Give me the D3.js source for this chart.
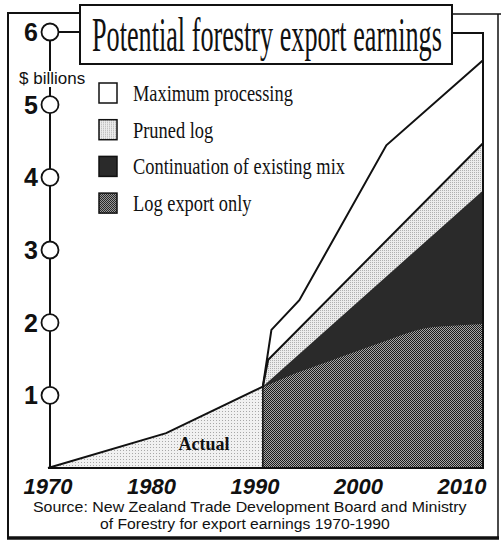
<!DOCTYPE html>
<html>
<head>
<meta charset="utf-8">
<script src="https://cdn.jsdelivr.net/npm/d3@7"></script>
<style>
  body { margin: 0; background: #fff; }
  svg { display: block; }
</style>
</head>
<body>
<div id="chart"></div>
<script>
// data ($ billions)
var actualYears = [1970, 1981, 1990];
var actualValues = [0, 0.48, 1.12];

var maxYears = [1990, 1990.8, 1993.4, 2001.5, 2010.5];
var maxValues = [1.12, 1.9, 2.31, 4.44, 5.61];

var prunedYears = [1990, 1990.5, 2010.5];
var prunedValues = [1.12, 1.49, 4.47];

var mixYears = [1990, 2010.5];
var mixValues = [1.12, 3.82];

var logYears = [1990, 1993, 1996, 1999, 2002, 2005, 2008, 2010.5];
var logValues = [1.11, 1.30, 1.46, 1.62, 1.78, 1.92, 1.96, 1.98];

var yTicks = [1, 2, 3, 4, 5, 6];
var xTickLabels = ["1970", "1980", "1990", "2000", "2010"];
var legendLabels = ["Maximum processing", "Pruned log", "Continuation of existing mix", "Log export only"];

var W = 501, H = 549;

var svg = d3.select("#chart")
    .append("svg")
    .attr("width", W)
    .attr("height", H);

var defs = svg.append("defs");

// light dotted fill
var dots = defs.append("pattern").attr("id", "dots")
    .attr("width", 3).attr("height", 3).attr("patternUnits", "userSpaceOnUse");
dots.append("rect").attr("width", 3).attr("height", 3).attr("fill", "#f1f1f1");
dots.append("rect").attr("width", 1).attr("height", 1).attr("fill", "#a8a8a8");

var dots2 = defs.append("pattern").attr("id", "dots2")
    .attr("width", 2).attr("height", 2).attr("patternUnits", "userSpaceOnUse");
dots2.append("rect").attr("width", 2).attr("height", 2).attr("fill", "#ececec");
dots2.append("rect").attr("width", 1).attr("height", 1).attr("fill", "#b0b0b0");

// checker fill for log export
var checker = defs.append("pattern").attr("id", "checker")
    .attr("width", 2).attr("height", 2).attr("patternUnits", "userSpaceOnUse");
checker.append("rect").attr("width", 2).attr("height", 2).attr("fill", "#a6a6a6");
checker.append("rect").attr("width", 1).attr("height", 1).attr("fill", "#1a1a1a");
checker.append("rect").attr("x", 1).attr("y", 1).attr("width", 1).attr("height", 1).attr("fill", "#1a1a1a");

// scales
var x = d3.scaleLinear().domain([1970, 2010.5]).range([48, 483]);
var y = d3.scaleLinear().domain([0, 6]).range([468, 32]);
// the printed year labels sit a little tighter than the data
var xLabel = d3.scalePoint().domain(xTickLabels).range([48, 462]);

function pts(years, values) {
    return years.map(function (d, i) { return [d, values[i]]; });
}

// squeeze a text horizontally to a given width, keeping its left edge
function squeeze(sel, x0, yb, width) {
    var w = sel.node().getComputedTextLength();
    sel.attr("x", 0).attr("y", 0)
        .attr("transform", "translate(" + x0 + "," + yb + ") scale(" + (width / w) + ",1)");
}

var area = d3.area()
    .x(function (d) { return x(d[0]); })
    .y0(y(0))
    .y1(function (d) { return y(d[1]); });

var line = d3.line()
    .x(function (d) { return x(d[0]); })
    .y(function (d) { return y(d[1]); });

// outer frame
var frame = svg.append("g").attr("fill", "none").attr("stroke", "#111");
frame.append("path").attr("stroke-width", 2)
    .attr("d", "M80,13 H8 V538");
frame.append("path").attr("stroke-width", 1.5)
    .attr("d", "M452,14 H501 M498,14 V538");
frame.append("path").attr("stroke-width", 3.5)
    .attr("d", "M7,538 H499");

// areas
svg.append("path").datum(pts(actualYears, actualValues))
    .attr("d", area).attr("fill", "url(#dots)");
svg.append("path").datum(pts(maxYears, maxValues))
    .attr("d", area).attr("fill", "#fff");
svg.append("path").datum(pts(prunedYears, prunedValues))
    .attr("d", area).attr("fill", "url(#dots2)");
svg.append("path").datum(pts(mixYears, mixValues))
    .attr("d", area).attr("fill", "#2a2a2a");
svg.append("path").datum(pts(logYears, logValues))
    .attr("d", area.curve(d3.curveMonotoneX)).attr("fill", "url(#checker)");

// outlines
svg.append("path").datum(pts(actualYears, actualValues))
    .attr("d", line).attr("fill", "none").attr("stroke", "#111").attr("stroke-width", 2);
svg.append("path").datum(pts(maxYears, maxValues))
    .attr("d", line).attr("fill", "none").attr("stroke", "#111").attr("stroke-width", 2);
svg.append("path").datum(pts(prunedYears, prunedValues))
    .attr("d", line).attr("fill", "none").attr("stroke", "#111").attr("stroke-width", 2);

svg.append("line")
    .attr("x1", x(1990)).attr("x2", x(1990))
    .attr("y1", y(0)).attr("y2", y(logValues[0]))
    .attr("stroke", "#111").attr("stroke-width", 1.5);

// baseline and right edge of plot
svg.append("path")
    .attr("d", "M" + x(1970) + "," + y(0) + " H" + x(2010.5) + " V33 H452")
    .attr("fill", "none").attr("stroke", "#111").attr("stroke-width", 2);

// y axis with circle ticks
svg.append("line")
    .attr("x1", 50).attr("x2", 50)
    .attr("y1", y(6)).attr("y2", y(0))
    .attr("stroke", "#111").attr("stroke-width", 2);

svg.append("line")
    .attr("x1", 50).attr("x2", 80)
    .attr("y1", y(6)).attr("y2", y(6))
    .attr("stroke", "#111").attr("stroke-width", 2);

// $ billions label breaks the axis line
var unit = svg.append("text")
    .attr("x", 19).attr("y", 84)
    .attr("font-family", "Liberation Sans, Arial, sans-serif")
    .attr("font-size", 17)
    .attr("fill", "#111")
    .text("$ billions");
var ub = unit.node().getBBox();
svg.insert("rect", "text")
    .attr("x", ub.x).attr("y", ub.y + 2)
    .attr("width", ub.width).attr("height", ub.height - 3)
    .attr("fill", "#fff");

svg.selectAll(".ycircle")
    .data(yTicks)
    .enter().append("circle")
    .attr("class", "ycircle")
    .attr("cx", 50)
    .attr("cy", function (d) { return y(d); })
    .attr("r", 8.5)
    .attr("fill", "#fff")
    .attr("stroke", "#111")
    .attr("stroke-width", 1.8);

svg.selectAll(".ylabel")
    .data(yTicks)
    .enter().append("text")
    .attr("class", "ylabel")
    .attr("x", 38)
    .attr("y", function (d) { return y(d) + 9; })
    .attr("text-anchor", "end")
    .attr("font-family", "Liberation Sans, Arial, sans-serif")
    .attr("font-weight", "bold")
    .attr("font-size", 25)
    .attr("fill", "#111")
    .text(function (d) { return d; });

// title box
svg.append("rect")
    .attr("x", 80).attr("y", 5)
    .attr("width", 372).attr("height", 59)
    .attr("fill", "#fff")
    .attr("stroke", "#111")
    .attr("stroke-width", 2);

var title = svg.append("text")
    .attr("font-family", "Liberation Serif, Times New Roman, serif")
    .attr("font-size", 48)
    .attr("fill", "#111")
    .text("Potential forestry export earnings");
squeeze(title, 92, 51, 350);

// legend
var legendFills = ["#fff", "url(#dots2)", "#2a2a2a", "url(#checker)"];
var legend = svg.selectAll(".legend")
    .data(legendLabels)
    .enter().append("g")
    .attr("class", "legend")
    .attr("transform", function (d, i) { return "translate(99," + (83 + i * 36.7) + ")"; });

legend.append("rect")
    .attr("width", 18).attr("height", 20)
    .attr("fill", function (d, i) { return legendFills[i]; })
    .attr("stroke", "#111")
    .attr("stroke-width", 1.5);

legend.append("text")
    .attr("font-family", "Liberation Serif, Times New Roman, serif")
    .attr("font-size", 23)
    .attr("fill", "#111")
    .text(function (d) { return d; })
    .each(function () {
        var t = d3.select(this);
        squeeze(t, 34, 18, this.getComputedTextLength() * 0.8);
    });

// Actual label
svg.append("text")
    .attr("x", 204).attr("y", 450)
    .attr("text-anchor", "middle")
    .attr("font-family", "Liberation Serif, Times New Roman, serif")
    .attr("font-weight", "bold")
    .attr("font-size", 18)
    .attr("fill", "#111")
    .text("Actual");

// x labels
svg.selectAll(".xlabel")
    .data(xTickLabels)
    .enter().append("text")
    .attr("class", "xlabel")
    .attr("x", function (d) { return xLabel(d); })
    .attr("y", 494)
    .attr("text-anchor", "middle")
    .attr("font-family", "Liberation Sans, Arial, sans-serif")
    .attr("font-weight", "bold")
    .attr("font-style", "italic")
    .attr("font-size", 22)
    .attr("fill", "#111")
    .text(function (d) { return d; });

// source note
var source = svg.append("g")
    .attr("font-family", "Liberation Sans, Arial, sans-serif")
    .attr("font-size", 14.5)
    .attr("fill", "#111");
squeeze(source.append("text").text("Source: New Zealand Trade Development Board and Ministry"), 33, 512, 434);
squeeze(source.append("text").text("of Forestry for export earnings 1970-1990"), 100, 529, 290);
</script>
</body>
</html>
